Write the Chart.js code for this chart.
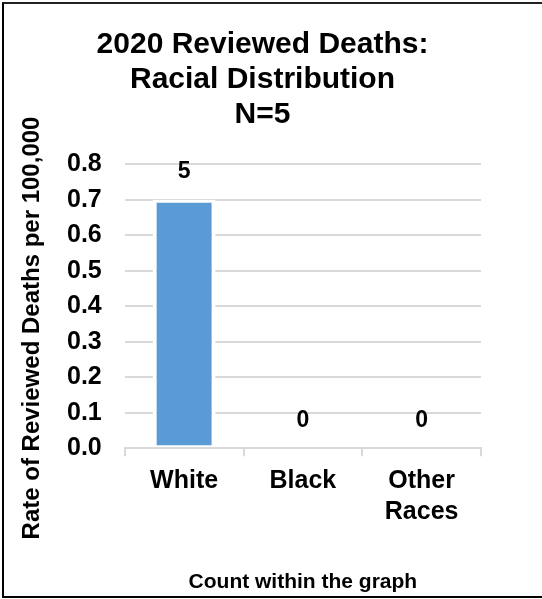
<!DOCTYPE html>
<html>
<head>
<meta charset="utf-8">
<script src="https://cdn.jsdelivr.net/npm/chart.js@4"></script>
<style>
  body { margin: 0; background: #fff; }
  #wrap { position: relative; width: 542px; height: 599px; }
  #frame {
    position: absolute; left: 2px; top: 2px; width: 545px; height: 592px;
    border-left: 2px solid #000; border-top: 2px solid #222; border-bottom: 2px solid #000;
    pointer-events: none;
  }
</style>
</head>
<body>
<div id="wrap">
  <canvas id="chart" width="542" height="599"></canvas>
  <div id="frame"></div>
</div>
<script>
// Data
const races = ["White", "Black", ["Other", "Races"]];
const rates = [0.70, 0, 0];
const counts = [5, 0, 0];
const yTicks = [0, 0.1, 0.2, 0.3, 0.4, 0.5, 0.6, 0.7, 0.8];

const FONT = "'Liberation Sans', Arial, sans-serif";

// count labels above bars
const countLabels = {
    id: "countLabels",
    afterDatasetsDraw(chart) {
        const ctx = chart.ctx;
        const meta = chart.getDatasetMeta(0);
        ctx.save();
        ctx.font = "bold 23px " + FONT;
        ctx.fillStyle = "#000";
        ctx.textAlign = "center";
        ctx.textBaseline = "middle";
        meta.data.forEach((bar, i) => {
            ctx.fillText(String(counts[i]), bar.x, bar.y - 28);
        });
        ctx.restore();
    }
};

// y axis title, placed like the original
const yTitle = {
    id: "yTitle",
    afterDraw(chart) {
        const ctx = chart.ctx;
        ctx.save();
        ctx.translate(32, 328);
        ctx.rotate(-Math.PI / 2);
        ctx.font = "bold 24px " + FONT;
        ctx.fillStyle = "#000";
        ctx.textAlign = "center";
        ctx.textBaseline = "middle";
        ctx.fillText("Rate of Reviewed Deaths per 100,000", 0, 0);
        ctx.restore();
    }
};

new Chart(document.getElementById("chart"), {
    type: "bar",
    data: {
        labels: races,
        datasets: [{
            data: rates,
            backgroundColor: "#5b9bd5",
            borderColor: "#ffffff",
            borderWidth: { top: 3, left: 4, right: 4, bottom: 2 },
            borderSkipped: false,
            barPercentage: 0.53,
            categoryPercentage: 1
        }]
    },
    options: {
        responsive: false,
        animation: false,
        layout: { padding: { left: 44, right: 61, top: 0, bottom: 0 } },
        plugins: {
            legend: { display: false },
            tooltip: { enabled: false },
            title: {
                display: true,
                text: ["2020 Reviewed Deaths:", "Racial Distribution", "N=5"],
                color: "#000",
                font: { family: FONT, size: 30, weight: "bold", lineHeight: 1.17 },
                padding: { top: 27, bottom: 32 }
            }
        },
        scales: {
            y: {
                min: 0,
                max: 0.8,
                afterBuildTicks(axis) {
                    axis.ticks = yTicks.map(v => ({ value: v }));
                },
                ticks: {
                    color: "#000",
                    padding: 23,
                    font: { family: FONT, size: 25, weight: "bold" },
                    callback: v => Number(v).toFixed(1)
                },
                grid: { color: "#d9d9d9", lineWidth: 2, drawTicks: false },
                border: { display: false }
            },
            x: {
                grid: {
                    offset: true,
                    drawOnChartArea: false,
                    color: "#d9d9d9",
                    lineWidth: 2,
                    tickLength: 8
                },
                border: { color: "#d9d9d9", width: 2 },
                ticks: {
                    color: "#000",
                    padding: 9,
                    maxRotation: 0,
                    font: { family: FONT, size: 25, weight: "bold", lineHeight: 1.25 }
                },
                title: {
                    display: true,
                    text: "Count within the graph",
                    color: "#000",
                    font: { family: FONT, size: 21, weight: "bold", lineHeight: 1.2 },
                    padding: { top: 33, bottom: 4 }
                }
            }
        }
    },
    plugins: [countLabels, yTitle]
});
</script>
</body>
</html>
